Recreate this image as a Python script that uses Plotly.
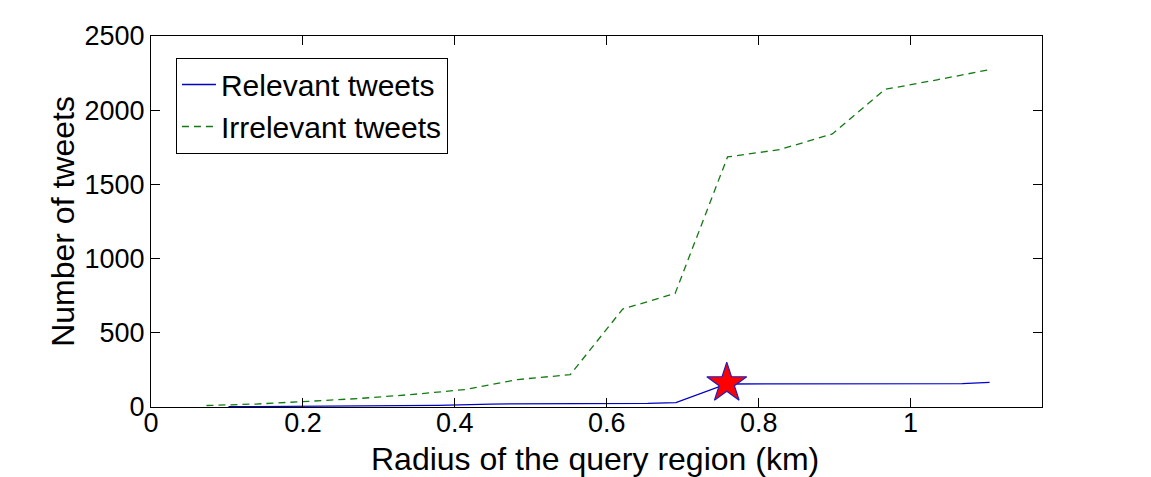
import plotly.graph_objects as go

# values
radius_relevant = [0.102, 0.241, 0.378, 0.448, 0.654, 0.691, 0.758, 1.068, 1.104]
relevant_tweets = [2, 6, 11, 20, 24, 30, 155, 158, 166]

radius_irrelevant = [0.073, 0.138, 0.207, 0.276, 0.345, 0.414, 0.483, 0.552,
                     0.621, 0.690, 0.759, 0.828, 0.897, 0.966, 1.035, 1.104]
irrelevant_tweets = [10, 20, 38, 58, 85, 118, 185, 218,
                     660, 765, 1685, 1735, 1840, 2140, 2205, 2273]

star_radius = [0.758]
star_tweets = [160]

x_ticks = [0, 0.2, 0.4, 0.6, 0.8, 1]
x_labels = ['0', '0.2', '0.4', '0.6', '0.8', '1']
y_ticks = [0, 500, 1000, 1500, 2000, 2500]

font = 'Liberation Sans, Arial, Helvetica, sans-serif'

fig = go.Figure()
fig.add_trace(go.Scatter(x=radius_relevant, y=relevant_tweets, mode='lines',
                         name='Relevant tweets',
                         line=dict(color='#0000c8', width=1.3)))
fig.add_trace(go.Scatter(x=radius_irrelevant, y=irrelevant_tweets, mode='lines',
                         name='Irrelevant tweets',
                         line=dict(color='#127a12', width=1.3, dash='7px,5px')))
fig.add_trace(go.Scatter(x=star_radius, y=star_tweets, mode='markers',
                         showlegend=False,
                         marker=dict(symbol='star', size=30, color='#ff0000',
                                     line=dict(color='#2020c0', width=1.2))))

axis_common = dict(showgrid=False, zeroline=False, showline=True, linecolor='black',
                   linewidth=1, mirror='ticks', ticks='inside', ticklen=9,
                   tickcolor='black', tickfont=dict(family=font, size=27, color='black'))

# the page body adds an 8px offset, margins are set so the plot box lands where the reference has it
fig.update_layout(
    width=1151, height=477,
    margin=dict(l=143, r=117, t=28, b=78),
    paper_bgcolor='white', plot_bgcolor='white',
    font=dict(family=font, color='black'),
    xaxis=dict(range=[0, 1.173], tickvals=x_ticks, ticktext=x_labels,
               ticklabelstandoff=-8, **axis_common),
    yaxis=dict(range=[0, 2500], tickvals=y_ticks,
               title=dict(text='Number of tweets',
                          font=dict(family=font, size=32), standoff=0),
               **axis_common),
    legend=dict(x=0.028, y=0.942, xanchor='left', yanchor='top',
                bgcolor='white', bordercolor='black', borderwidth=1,
                font=dict(family=font, size=30, color='black'),
                tracegroupgap=0, itemwidth=34),
)

# x axis title placed as an annotation so it sits inside the window
fig.add_annotation(text='Radius of the query region (km)', xref='paper', yref='paper',
                   x=0.498, y=-0.14, xanchor='center', yanchor='middle', showarrow=False,
                   font=dict(family=font, size=32, color='black'))

fig.write_html("out.html")
